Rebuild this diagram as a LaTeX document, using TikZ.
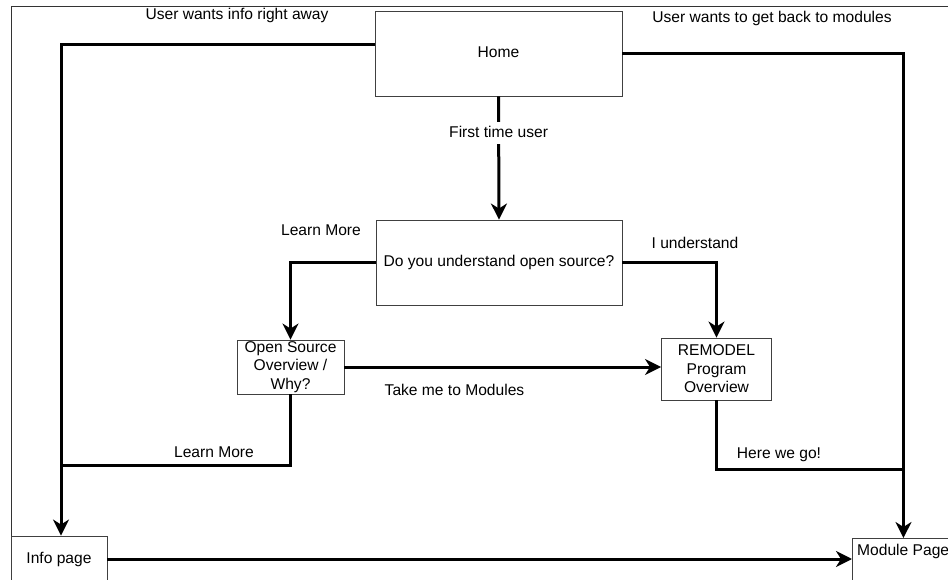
\documentclass[tikz,border=0pt]{standalone}
\usepackage{fontspec}
\setmainfont{Liberation Sans}
\usetikzlibrary{arrows.meta}
\newcommand\dfont{\fontsize{15.6}{18.5}\selectfont}
\begin{document}
\begin{tikzpicture}[x=1pt,y=-1pt,
  box/.style={draw=black!75, line width=0.9pt, fill=white, inner sep=0pt, font=\dfont},
  onebox/.style={box, text height=11.5pt, text depth=3.5pt},
  lbl/.style={font=\dfont, inner sep=0pt},
  thick3/.style={line width=3pt, line join=miter},
  conn/.style={thick3, -{Stealth[length=16pt,width=16pt,inset=5pt]}}
]
\useasboundingbox (0,0) rectangle (948,580);
\draw[line width=0.9pt, black!80] (11,585) -- (11,6) -- (952,6);

\node[onebox, minimum width=247pt, minimum height=85pt] (home) at (498.5,53.5) {Home};
\node[onebox, minimum width=246pt, minimum height=85pt] (q) at (499,262.5) {Do you understand open source?};
\node[box, align=center, minimum width=107pt, minimum height=54pt] (os) at (290.5,367) {Open Source\\Overview /\\Why?};
\node[box, align=center, minimum width=110pt, minimum height=62pt] (rm) at (716.5,369) {REMODEL\\Program\\Overview};
\node[onebox, minimum width=96pt, minimum height=46pt] (info) at (59,559) {Info page};
\node[box, anchor=north west, minimum width=102pt, minimum height=48pt] (mod) at (852,538) {};
\node[lbl, anchor=base west] (modtxt) at ([xshift=5pt,yshift=-17pt]mod.north west) {Module Page};

\coordinate (learnjoin) at (61,465);
\coordinate (herejoin) at (903,469);

\draw[conn] ([yshift=8.5pt]home.west) -| ([xshift=2pt]info.north);
\draw[conn] (home.east) -| (mod.north);
\draw[conn] (home.south) -- node[lbl, pos=0.3, fill=white, inner sep=3.5pt, text height=11.5pt, text depth=3.5pt] (ftu) {First time user} (q.north);
\draw[conn] (q.west) -| (os.north);
\draw[conn] (q.east) -| (rm.north);
\draw[conn] (os.east) -- (os.east -| rm.west);
\draw[thick3] (os.south) |- (learnjoin);
\draw[thick3] (rm.south) |- (herejoin);
\draw[conn] (info.east) -- (info.east -| mod.west);

\node[lbl, anchor=base] (l1) at (237,20) {User wants info right away};
\node[lbl, anchor=base] (l2) at (772,23) {User wants to get back to modules};
\node[lbl, anchor=base] (l3) at (321,236) {Learn More};
\node[lbl, anchor=base] (l4) at (695,248) {I understand};
\node[lbl, anchor=base] (l5) at (454.5,395) {Take me to Modules};
\node[lbl, anchor=base] (l6) at (214,457) {Learn More};
\node[lbl, anchor=base] (l7) at (779,458) {Here we go!};
\end{tikzpicture}
\end{document}
